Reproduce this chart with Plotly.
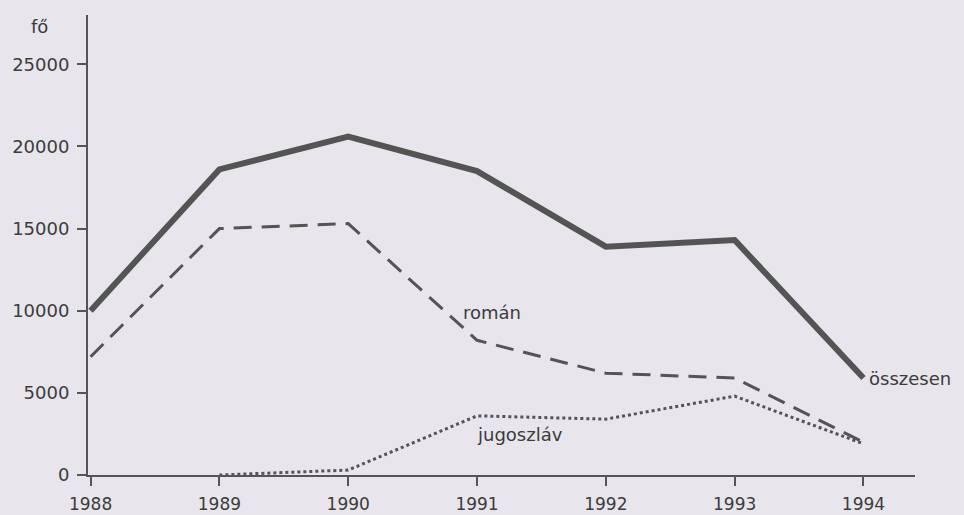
import plotly.graph_objects as go

years = [1988, 1989, 1990, 1991, 1992, 1993, 1994]
osszesen = [10000, 18600, 20600, 18500, 13900, 14300, 5900]
roman = [7200, 15000, 15300, 8200, 6200, 5900, 2000]
jugoszlav = [None, 0, 300, 3600, 3400, 4800, 1900]
yticks = [0, 5000, 10000, 15000, 20000, 25000]
yticktext = ["0", "5000", "10000", "15000", "20000", "25000"]

line_col = "#545454"
bg = "#e8e5ec"
font = "DejaVu Sans"
txt = "#3c3c3c"

fig = go.Figure()
fig.add_trace(go.Scatter(x=years, y=osszesen, mode="lines",
                         line=dict(color=line_col, width=6), showlegend=False))
fig.add_trace(go.Scatter(x=years, y=roman, mode="lines",
                         line=dict(color=line_col, width=3, dash="18px,10px"), showlegend=False))
fig.add_trace(go.Scatter(x=years, y=jugoszlav, mode="lines",
                         line=dict(color=line_col, width=3, dash="dot"), showlegend=False))

fig.add_annotation(x=1994.03, y=osszesen[-1], text="összesen", showarrow=False,
                   xanchor="left", yanchor="middle",
                   font=dict(family=font, size=18, color=txt))
fig.add_annotation(x=1991.12, y=9900, text="román", showarrow=False,
                   xanchor="center", yanchor="middle",
                   font=dict(family=font, size=18, color=txt))
fig.add_annotation(x=1991.33, y=2450, text="jugoszláv", showarrow=False,
                   xanchor="center", yanchor="middle",
                   font=dict(family=font, size=18, color=txt))
fig.add_annotation(x=-0.059, y=0.976, xref="paper", yref="paper", text="fő",
                   xanchor="center", yanchor="middle",
                   showarrow=False, font=dict(family=font, size=18, color=txt))

fig.update_layout(
    width=964, height=515,
    margin=dict(l=88, r=49, t=15, b=40),
    paper_bgcolor=bg, plot_bgcolor=bg,
    font=dict(family=font, size=18, color=txt),
    xaxis=dict(range=[1987.98, 1994.4], tickvals=years, showgrid=False, zeroline=False,
               showline=True, linecolor="#555", linewidth=2, ticks="outside",
               ticklen=9, tickwidth=2, tickcolor="#555", ticklabelstandoff=4,
               automargin=False, tickfont=dict(size=17)),
    yaxis=dict(range=[0, 28000], tickvals=yticks, ticktext=yticktext, showgrid=False,
               zeroline=False, showline=True, linecolor="#555", linewidth=2,
               ticks="outside", ticklen=9, tickwidth=2, tickcolor="#555",
               ticklabelstandoff=4, automargin=False, tickfont=dict(size=18)),
)
fig.write_html("out.html", config={"displayModeBar": False},
               post_script="document.body.style.margin='0px';document.body.style.background='%s';" % bg)
